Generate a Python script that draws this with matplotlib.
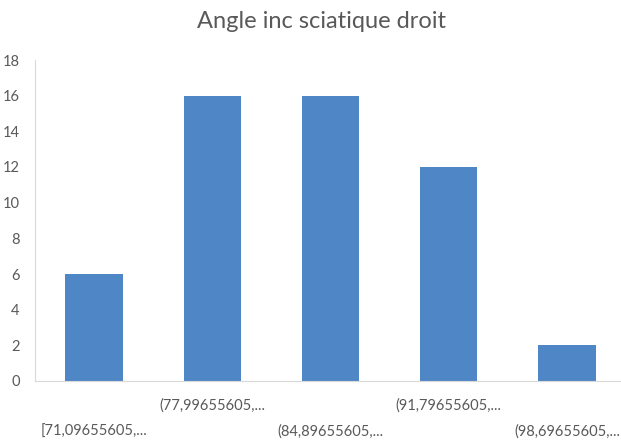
import matplotlib
matplotlib.use("Agg")
import matplotlib.pyplot as plt

plt.rcParams['font.family'] = ['Lato', 'DejaVu Sans']

categories = ["[71,09655605,...", "(77,99655605,...", "(84,89655605,...",
              "(91,79655605,...", "(98,69655605,..."]
counts = [6, 16, 16, 12, 2]
yticks = [0, 2, 4, 6, 8, 10, 12, 14, 16, 18]

text_col = '#595959'
bar_col = '#4F86C6'
line_col = '#D9D9D9'

fig = plt.figure(figsize=(6.21, 4.47), dpi=100)
ax = fig.add_axes([35 / 621, 66 / 447, 586 / 621, 321 / 447])

x = list(range(len(categories)))
ax.bar(x, counts, width=0.485, color=bar_col, zorder=2)

ax.set_ylim(0, 18)
ax.set_xlim(-0.5, 4.5 - 5 / 118.5)
ax.set_yticks(yticks)
ax.set_xticks([])
ax.tick_params(axis='y', length=0, pad=11, labelsize=10.5, labelcolor=text_col)

for s in ['top', 'right']:
    ax.spines[s].set_visible(False)
ax.spines['left'].set_color(line_col)
ax.spines['bottom'].set_color(line_col)

# staggered category labels
for i, lab in enumerate(categories):
    yy = -0.075 if i % 2 else -0.159
    ax.text(i, yy, lab, transform=ax.get_xaxis_transform(), ha='center',
            va='center', fontsize=10.5, color=text_col)

fig.text(0.517, 0.951, 'Angle inc sciatique droit', ha='center', va='center',
         fontsize=17, color=text_col)

fig.savefig('out.png', dpi=100)
